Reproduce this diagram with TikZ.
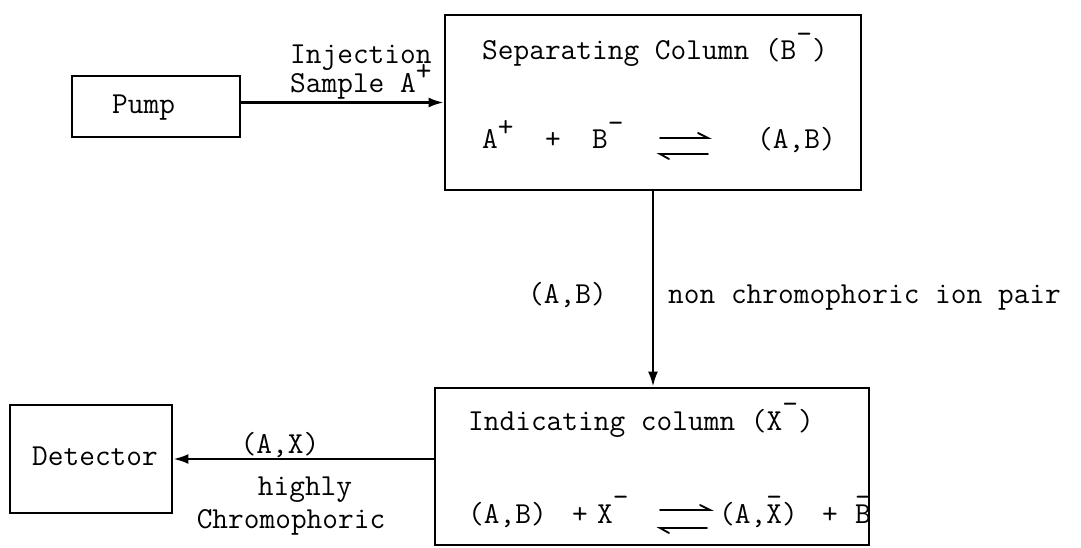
\documentclass[tikz,border=0pt]{standalone}
\usepackage{fontspec}
\usetikzlibrary{arrows.meta}
\newcommand{\rsup}[1]{\raisebox{0.4em}{#1}}
\newcommand{\rbar}{\raisebox{0.55em}{-}}
\begin{document}
\begin{tikzpicture}[x=1pt,y=-1pt,
  every node/.style={font=\ttfamily\fontsize{30.5pt}{34pt}\selectfont, inner sep=0pt, text height=21pt, text depth=5pt},
  box/.style={draw, line width=2.8pt, text height=0pt, text depth=0pt},
  conn/.style={line width=2.4pt},
  tip/.style={-{Latex[length=15pt,width=10pt]}},
  harp/.style={line width=1.8pt, line cap=round},
  ]
\useasboundingbox (0,0) rectangle (1081,548);
% boxes
\node[box, minimum width=168pt, minimum height=61pt] (pump) at (156,106.5) {};
\node[box, minimum width=416pt, minimum height=175pt] (sep) at (653,102.5) {};
\node[box, minimum width=434pt, minimum height=157pt] (ind) at (652,466.5) {};
\node[box, minimum width=162pt, minimum height=108pt] (det) at (91,459) {};
% box texts
\node[anchor=west] (tpump) at (112,106) {Pump};
\node[anchor=west] (tdet) at (32,457) {Detector};
\node[anchor=west] (tsep) at (482,52) {Separating Column (B\rbar)};
\node[anchor=west] (tind) at (468,422) {Indicating column (X\rbar)};
% top reaction
\node[anchor=west] (r1l) at (482,141) {A\rsup{+}~~+~~B\rbar};
\node[anchor=west] (r1r) at (757,141) {(A,B)};
\coordinate (ta1) at (660,138); \coordinate (ta2) at (708,138);
\coordinate (tb1) at (660,154); \coordinate (tb2) at (708,154);
\draw[harp] (ta1) -- (ta2) -- ++(-10,-5);
\draw[harp] (tb2) -- (tb1) -- ++(9,5);
% bottom reaction
\node[anchor=west] (r2a) at (468,515) {(A,B)};
\node (r2p1) at (580,515) {+};
\node[anchor=west] (r2x) at (597,515) {X\rbar};
\node[anchor=west] (r2ax) at (719,515) {(A,X\llap{\raisebox{0.55em}{-}})};
\node (r2p2) at (830,515) {+};
\node[anchor=west] (r2b) at (855,515) {B\llap{\raisebox{0.55em}{-}}};
\coordinate (ba1) at (660,510); \coordinate (ba2) at (710,510);
\coordinate (bb1) at (660,528); \coordinate (bb2) at (707,528);
\draw[harp] (ba1) -- (ba2) -- ++(-10,-5);
\draw[harp] (bb2) -- (bb1) -- ++(9,5);
% connectors
\draw[conn, tip] (pump.east |- sep.west) -- (sep.west);
\draw[conn, tip] (sep.south) -- (sep.south |- ind.north);
\draw[conn, tip] (ind.west |- det.east) -- (det.east);
% connector labels
\node[anchor=west] (linj) at (290,56) {Injection};
\node[anchor=west] (lsam) at (290,85) {Sample A\rsup{+}};
\node[anchor=west] (lab) at (528,295) {(A,B)};
\node[anchor=west] (lnon) at (668,295) {non chromophoric ion pair};
\node (lax) at (280,445) {(A,X)};
\node (lhigh) at (305,487) {highly};
\node (lchr) at (291,520) {Chromophoric};
\end{tikzpicture}
\end{document}
